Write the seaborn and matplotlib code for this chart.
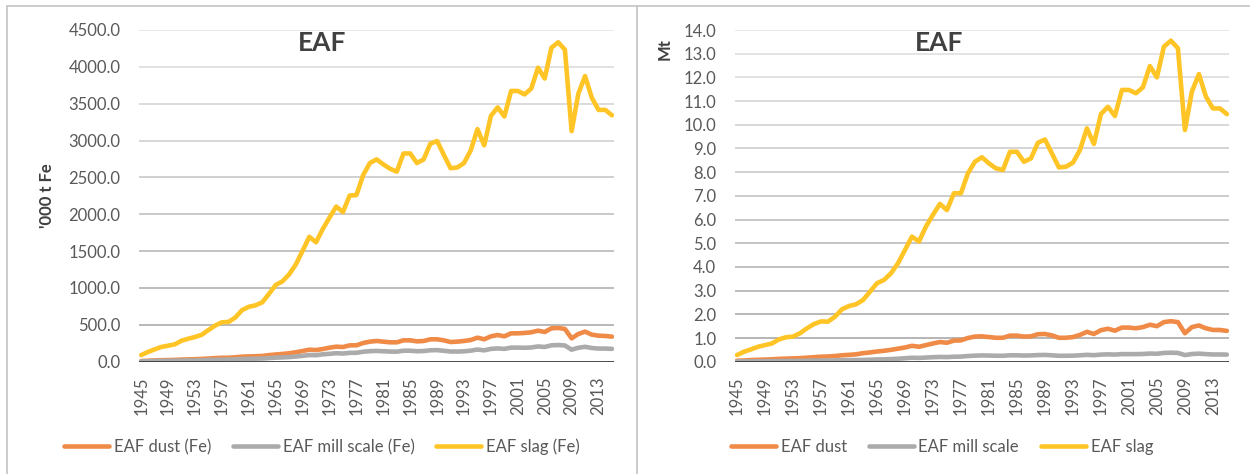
import matplotlib
matplotlib.use("Agg")
import matplotlib.pyplot as plt
from matplotlib.lines import Line2D
from matplotlib.colors import to_rgb
import numpy as np
import pandas as pd
import seaborn as sns

years = list(range(1945, 2016))

# '000 t Fe
dust_fe = [
    9, 13, 17, 20, 22, 24, 29, 31, 34, 37,
    43, 49, 53, 54, 60, 68, 72, 74, 78, 89,
    98, 105, 115, 128, 145, 163, 158, 172, 190, 204,
    199, 222, 222, 254, 272, 281, 272, 263, 263, 290,
    290, 276, 281, 304, 304, 290, 267, 272, 281, 294,
    326, 304, 344, 362, 344, 385, 385, 390, 399, 421,
    403, 453, 458, 444, 317, 376, 408, 367, 353, 349,
    340,
]
mill_fe = [
    5, 7, 9, 11, 12, 13, 15, 17, 18, 19,
    23, 26, 28, 29, 32, 37, 39, 41, 43, 49,
    55, 58, 63, 70, 80, 90, 88, 100, 107, 115,
    111, 120, 121, 135, 143, 146, 142, 138, 136, 149,
    149, 142, 145, 155, 157, 148, 138, 138, 141, 150,
    165, 154, 174, 180, 174, 191, 191, 189, 193, 207,
    200, 222, 226, 220, 163, 189, 202, 186, 178, 178,
    174,
]
slag_fe = [
    90, 132, 167, 200, 217, 235, 285, 312, 335, 365,
    430, 490, 535, 540, 600, 700, 745, 765, 805, 920,
    1040, 1090, 1185, 1320, 1505, 1695, 1620, 1800, 1955, 2105,
    2030, 2255, 2260, 2530, 2695, 2745, 2677, 2618, 2578, 2825,
    2825, 2695, 2745, 2958, 2994, 2805, 2625, 2635, 2695, 2867,
    3155, 2935, 3335, 3450, 3327, 3673, 3673, 3626, 3706, 3988,
    3842, 4260, 4333, 4233, 3128, 3637, 3875, 3581, 3416, 3416,
    3343,
]

# Mt
dust_mt = [
    0.04, 0.05, 0.07, 0.08, 0.09, 0.10, 0.12, 0.13, 0.14, 0.15,
    0.17, 0.19, 0.21, 0.22, 0.24, 0.27, 0.29, 0.31, 0.36, 0.39,
    0.43, 0.46, 0.50, 0.55, 0.60, 0.67, 0.63, 0.70, 0.77, 0.83,
    0.80, 0.89, 0.90, 1.00, 1.06, 1.07, 1.04, 1.01, 1.01, 1.10,
    1.10, 1.06, 1.07, 1.16, 1.17, 1.11, 1.01, 1.01, 1.04, 1.13,
    1.26, 1.17, 1.33, 1.39, 1.31, 1.44, 1.44, 1.41, 1.46, 1.56,
    1.50, 1.67, 1.71, 1.67, 1.20, 1.46, 1.53, 1.41, 1.34, 1.34,
    1.30,
]
mill_mt = [
    0.010, 0.012, 0.015, 0.018, 0.020, 0.022, 0.027, 0.030, 0.031, 0.035,
    0.041, 0.046, 0.050, 0.050, 0.055, 0.064, 0.068, 0.070, 0.075, 0.086,
    0.096, 0.100, 0.110, 0.125, 0.145, 0.165, 0.160, 0.175, 0.190, 0.200,
    0.195, 0.210, 0.215, 0.240, 0.255, 0.265, 0.258, 0.252, 0.250, 0.270,
    0.270, 0.260, 0.265, 0.280, 0.285, 0.270, 0.250, 0.250, 0.255, 0.270,
    0.290, 0.275, 0.300, 0.310, 0.300, 0.320, 0.320, 0.320, 0.325, 0.345,
    0.335, 0.370, 0.380, 0.370, 0.280, 0.325, 0.340, 0.320, 0.305, 0.305,
    0.300,
]
slag_mt = [
    0.28, 0.42, 0.52, 0.63, 0.70, 0.77, 0.94, 1.03, 1.06, 1.20,
    1.41, 1.59, 1.70, 1.69, 1.90, 2.21, 2.35, 2.42, 2.60, 2.95,
    3.31, 3.45, 3.73, 4.15, 4.71, 5.28, 5.07, 5.70, 6.20, 6.66,
    6.40, 7.11, 7.11, 7.95, 8.44, 8.63, 8.37, 8.16, 8.09, 8.86,
    8.86, 8.44, 8.58, 9.24, 9.38, 8.79, 8.20, 8.23, 8.40, 8.93,
    9.85, 9.19, 10.45, 10.76, 10.37, 11.47, 11.47, 11.33, 11.58, 12.48,
    12.00, 13.30, 13.55, 13.23, 9.78, 11.40, 12.14, 11.19, 10.69, 10.69,
    10.45,
]

labels_fe = ["EAF dust (Fe)", "EAF mill scale (Fe)", "EAF slag (Fe)"]
labels_mt = ["EAF dust", "EAF mill scale", "EAF slag"]
year_ticks = list(range(1945, 2014, 4))
yticks_fe = [0, 500, 1000, 1500, 2000, 2500, 3000, 3500, 4000, 4500]
yticks_mt = list(range(0, 15))

colors = ["#EF8A47", "#ABABAB", "#FFC425"]
TXT = "#595959"
DARK = "#404040"

sns.set_theme(style="white")
plt.rcParams["font.family"] = ["Lato", "DejaVu Sans"]

W, H = 1250, 474
fig = plt.figure(figsize=(W / 100, H / 100), dpi=100)


def frame(ax, series, labels, ticks, top):
    df = pd.concat(
        [pd.DataFrame({"year": years, "value": vals, "series": lab})
         for vals, lab in zip(series, labels)],
        ignore_index=True,
    )
    # gridlines fade from darker near the axis to lighter at the top
    lo, hi = np.array(to_rgb("#A4A4A4")), np.array(to_rgb("#E4E4E4"))
    for t in ticks[1:]:
        f = t / top
        ax.axhline(t, color=tuple(lo + (hi - lo) * f), lw=1.2, zorder=1)
    sns.lineplot(data=df, x="year", y="value", hue="series",
                 hue_order=labels, palette=colors, linewidth=3.3,
                 errorbar=None, legend=False, ax=ax, zorder=3,
                 solid_capstyle="round", solid_joinstyle="round")
    ax.axhline(0, color="#3A3A3A", lw=2.0, zorder=4)
    ax.set_xlim(1944.72, 2015.3)
    ax.set_ylim(0, top)
    ax.set_xticks(year_ticks)
    ax.set_xticklabels([str(y) for y in year_ticks], rotation=90)
    ax.set_yticks(ticks)
    ax.set_yticklabels([f"{t:.1f}" for t in ticks])
    ax.tick_params(axis="both", length=0, labelsize=12, colors=TXT)
    ax.tick_params(axis="y", pad=13.5)
    ax.tick_params(axis="x", pad=10.5)
    for s in ax.spines.values():
        s.set_visible(False)
    ax.set_xlabel("")
    ax.set_ylabel("")
    ax.set_facecolor("white")


ax1 = fig.add_axes([139.3 / W, 1 - 361.7 / H, 474.7 / W, 331.7 / H])
frame(ax1, [dust_fe, mill_fe, slag_fe], labels_fe, yticks_fe, 4500)
ax1.text(0.386, 0.9376, "EAF", transform=ax1.transAxes, ha="center",
         va="baseline", fontsize=19, fontweight="bold", color=DARK)
ax1.text(-0.1944, 0.5, "'000 t Fe", transform=ax1.transAxes, rotation=90,
         ha="center", va="center", fontsize=12, fontweight="bold", color=DARK)

ax2 = fig.add_axes([735 / W, 1 - 361.7 / H, 494 / W, 331.7 / H])
frame(ax2, [dust_mt, mill_mt, slag_mt], labels_mt, yticks_mt, 14)
ax2.text(0.413, 0.9376, "EAF", transform=ax2.transAxes, ha="center",
         va="baseline", fontsize=19, fontweight="bold", color=DARK)
ax2.text(-0.1417, 0.944, "Mt", transform=ax2.transAxes, rotation=90,
         ha="center", va="center", fontsize=12, fontweight="bold", color=DARK)


def legend(labels, cx):
    handles = [Line2D([0], [0], color=c, lw=3.3, solid_capstyle="round")
               for c in colors]
    fig.legend(handles, labels, loc="center", ncol=3, frameon=False,
               bbox_to_anchor=(cx / W, 1 - 446.7 / H), fontsize=12,
               handlelength=2.7, handletextpad=0.3, columnspacing=1.3,
               labelcolor=TXT)


legend(labels_fe, 322)
legend(labels_mt, 942)

# chart-area borders
bc = "#C4C4C4"
fig.add_artist(Line2D([7 / W, 1.0], [1 - 6 / H, 1 - 6 / H], color=bc, lw=1.2,
                      transform=fig.transFigure))
fig.add_artist(Line2D([7 / W, 7 / W], [0, 1 - 6 / H], color=bc, lw=1.2,
                      transform=fig.transFigure))
fig.add_artist(Line2D([637 / W, 637 / W], [0, 1 - 6 / H], color=bc, lw=1.2,
                      transform=fig.transFigure))

fig.savefig("out.png", dpi=100, facecolor="white")
